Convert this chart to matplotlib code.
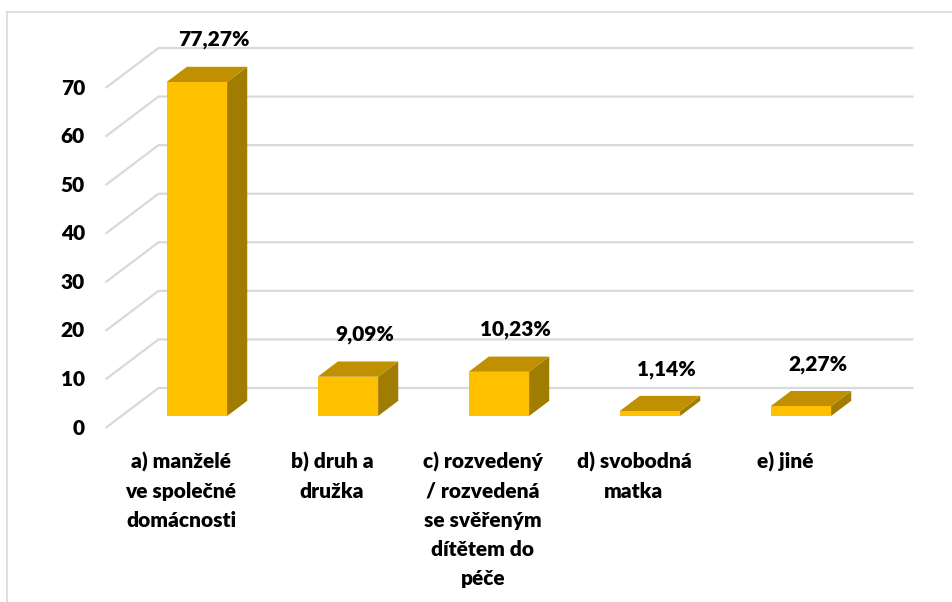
import numpy as np
import matplotlib.pyplot as plt
from matplotlib.patches import Polygon
from matplotlib.lines import Line2D

# --- data ---
categories = ["a) manželé\nve společné\ndomácnosti",
              "b) druh a\ndružka",
              "c) rozvedený\n/ rozvedená\nse svěřeným\ndítětem do\npéče",
              "d) svobodná\nmatka",
              "e) jiné"]
values = [77.27, 9.09, 10.23, 1.14, 2.27]
value_labels = ["77,27%", "9,09%", "10,23%", "1,14%", "2,27%"]
y_ticks = [0, 10, 20, 30, 40, 50, 60, 70]

# --- 3D look settings ---
depth_dx = 0.351     # full wall depth, in category units
depth_dy = 8.24      # full wall depth, in value units
face_depth = 0.30    # where the front face of a bar sits
bar_depth = 0.38     # how deep a bar is
bar_width = 0.40
persp = 0.89         # bars shrink a little with perspective

front_col = "#FFC000"
top_col = "#C09000"
side_col = "#A07C00"
grid_col = "#D9D9D9"

plt.rcParams['font.family'] = ['Lato', 'DejaVu Sans']
fs = 15

fig = plt.figure(figsize=(9.52, 6.02), dpi=100)
ax = fig.add_axes([0, 0, 1, 1])
ax.set_xlim(-1.1987, 5.106)
ax.set_ylim(-35.82, 88.12)
ax.axis('off')

x = np.arange(len(values))
x_left = -0.5
x_right = len(values) - 0.5

# side wall diagonals + back wall gridlines
for t in y_ticks:
    ax.plot([x_left, x_left + depth_dx, x_right + depth_dx],
            [t, t + depth_dy, t + depth_dy],
            color=grid_col, lw=1.6, zorder=1, solid_capstyle='butt')
    ax.text(x_left - 0.136, t, str(t), ha='right', va='center',
            fontsize=fs, fontweight='heavy', color='black')

# bars
fdx = face_depth * depth_dx
fdy = face_depth * depth_dy
bdx = bar_depth * depth_dx
bdy = bar_depth * depth_dy
for xi, v, lab in zip(x, values, value_labels):
    h = v * persp
    xl = xi + fdx - bar_width / 2
    xr = xi + fdx + bar_width / 2
    yb = fdy
    yt = fdy + h
    side = Polygon([(xr, yb), (xr + bdx, yb + bdy), (xr + bdx, yt + bdy), (xr, yt)],
                   closed=True, fc=side_col, ec='none', zorder=3)
    top = Polygon([(xl, yt), (xr, yt), (xr + bdx, yt + bdy), (xl + bdx, yt + bdy)],
                  closed=True, fc=top_col, ec='none', zorder=3)
    ax.add_patch(side)
    ax.add_patch(top)
    ax.bar(xi + fdx, h, width=bar_width, bottom=yb, color=front_col, zorder=4)
    ax.text(xi + fdx + 0.11, yt + 8.65, lab, ha='center', va='center',
            fontsize=fs, fontweight='heavy')

# category labels
for xi, c in zip(x, categories):
    ax.text(xi, -4.9, c, ha='center', va='top', fontsize=fs,
            fontweight='heavy', linespacing=1.62)

# chart area border
fig.add_artist(Line2D([7 / 952, 7 / 952], [0, 1 - 12 / 602],
                      color=grid_col, lw=1.2, transform=fig.transFigure))
fig.add_artist(Line2D([7 / 952, 1], [1 - 12 / 602, 1 - 12 / 602],
                      color=grid_col, lw=1.2, transform=fig.transFigure))

fig.savefig("out.png", dpi=100)
